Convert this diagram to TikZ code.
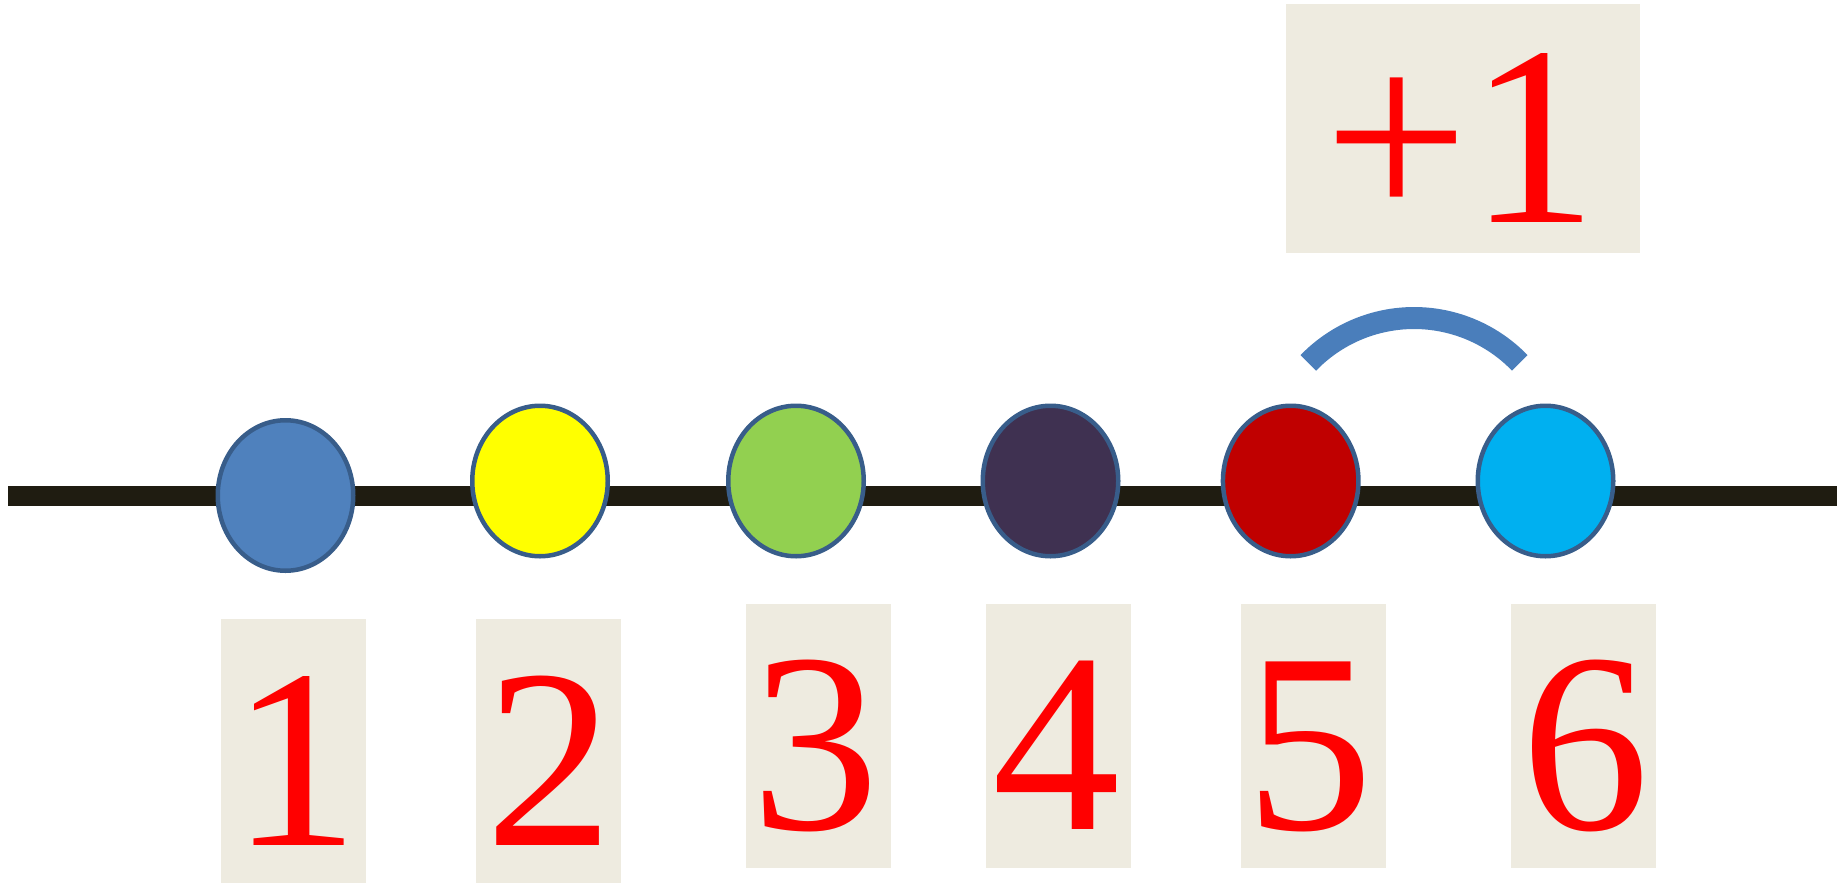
\documentclass[tikz,border=0pt]{standalone}
\usepackage{fontspec}
\setmainfont{Liberation Serif}
\usetikzlibrary{shapes.geometric}
\definecolor{linecol}{HTML}{1F1C11}
\definecolor{boxfill}{HTML}{EEEBE0}
\definecolor{beadedge}{HTML}{385D8A}
\definecolor{arccol}{HTML}{4A7EBB}
\definecolor{cA}{HTML}{4F81BD}
\definecolor{cB}{HTML}{FFFF00}
\definecolor{cC}{HTML}{92D050}
\definecolor{cD}{HTML}{3F3151}
\definecolor{cE}{HTML}{C00000}
\definecolor{cF}{HTML}{00B0F0}
\begin{document}
\begin{tikzpicture}[x=1pt,y=-1pt,
  bead/.style={ellipse, draw=beadedge, line width=4.5pt, minimum width=135.5pt, minimum height=150.5pt, inner sep=0pt},
  numbox/.style={rectangle, fill=boxfill, minimum width=145pt, minimum height=264.5pt, inner sep=0pt},
  digit/.style={anchor=base, inner sep=0pt, text=red, font=\fontsize{256pt}{256pt}\selectfont},
  bar/.style={draw=linecol, line width=20pt},
  bow/.style={draw=arccol, line width=22pt}]
\useasboundingbox (0,0) rectangle (1845,886);
% bar
\coordinate (lineL) at (8,496);
\coordinate (lineR) at (1837,496);
\draw[bar] (lineL) -- (lineR);
% beads
\node[bead, fill=cA] (b1) at (285.5,495.5) {};
\node[bead, fill=cB] (b2) at (540,481) {};
\node[bead, fill=cC] (b3) at (796,481) {};
\node[bead, fill=cD] (b4) at (1050.5,481) {};
\node[bead, fill=cE] (b5) at (1290.7,481) {};
\node[bead, fill=cF] (b6) at (1545.5,481) {};
% number boxes
\node[numbox] (n1) at (293,751) {};
\node[numbox] (n2) at (548.3,751) {};
\node[numbox] (n3) at (818,736) {};
\node[numbox] (n4) at (1058.2,736) {};
\node[numbox] (n5) at (1313,736) {};
\node[numbox] (n6) at (1583,736) {};
\node[digit] (d1) at (295,845) {1};
\node[digit] (d2) at (549,845) {2};
\node[digit] (d3) at (815,829) {3};
\node[digit] (d4) at (1056,829) {4};
\node[digit] (d5) at (1309,829) {5};
\node[digit] (d6) at (1585,829) {6};
% +1
\node[numbox, minimum width=354pt, minimum height=249pt] (pbox) at (1463,128) {};
\node[digit] (plus) at (1461,222) {+1};
% arc
\coordinate (arcL) at (1308.3,362.9);
\draw[bow] (arcL) arc[start angle=136, end angle=44, radius=147pt];
\end{tikzpicture}
\end{document}
